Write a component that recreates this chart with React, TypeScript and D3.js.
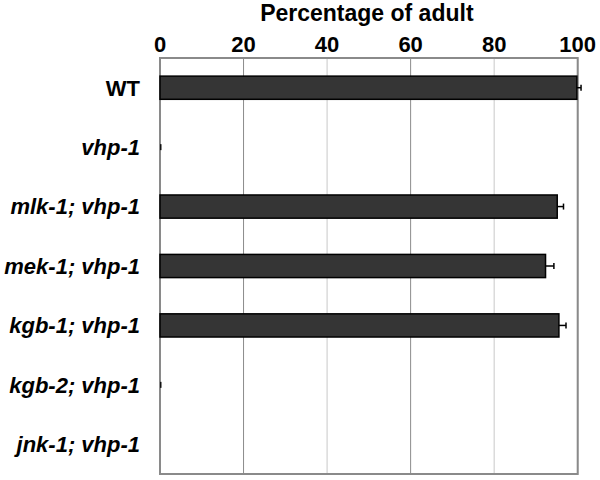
import React from "react";
import * as d3 from "d3";

const categories = ["WT", "vhp-1", "mlk-1; vhp-1", "mek-1; vhp-1", "kgb-1; vhp-1", "kgb-2; vhp-1", "jnk-1; vhp-1"];
const values = [99.8, 0.3, 95.1, 92.3, 95.5, 0.3, 0];
const errors = [1.0, 0.3, 1.5, 2.0, 1.7, 0.3, 0];
const italicFlags = [false, true, true, true, true, true, true];
const ticks = [0, 20, 40, 60, 80, 100];
const title = "Percentage of adult";

const W = 600, H = 480;
const left = 160, right = 577.7, top = 58, bottom = 474;

export default function App() {
  const x = d3.scaleLinear().domain([0, 100]).range([left, right]);
  const y = d3.scaleBand().domain(categories).range([top, bottom]).paddingInner(0.61).paddingOuter(0.305);
  const font = "'Liberation Sans', Arial, Helvetica, sans-serif";
  return (
    <svg width={W} height={H} style={{ position: "absolute", left: 0, top: 0, background: "#fff" }} fontFamily={font}>
      <rect x={0} y={0} width={W} height={H} fill="#fff" />
      {ticks.map((t, i) => (
        <line key={"g" + t} x1={x(t)} x2={x(t)} y1={top} y2={bottom}
          stroke={i % 2 === 1 ? "#8c8c8c" : "#c8c8c8"} strokeWidth={1} />
      ))}
      <rect x={left} y={top} width={right - left} height={bottom - top} fill="none" stroke="#8a8a8a" strokeWidth={2} />
      {categories.map((c, i) => {
        const by = y(c)!;
        const bh = y.bandwidth();
        const cy = by + bh / 2;
        const v = values[i];
        const e = errors[i];
        return (
          <g key={c}>
            {v > 0 && v > 1 && (
              <rect x={x(0)} y={by} width={x(v) - x(0)} height={bh} fill="#353535" stroke="#000" strokeWidth={1.5} />
            )}
            {v > 0 && v <= 1 && (
              <rect x={x(0)} y={cy - 3} width={Math.max(x(v) - x(0), 1.5)} height={6} fill="#111" />
            )}
            {e > 0 && v > 1 && (
              <g stroke="#000" strokeWidth={1.5}>
                <line x1={x(v)} x2={x(v + e)} y1={cy} y2={cy} />
                <line x1={x(v + e)} x2={x(v + e)} y1={cy - 3} y2={cy + 3} />
              </g>
            )}
            <text x={140} y={cy} dy="0.36em" textAnchor="end" fontSize={22} fontWeight="bold"
              fontStyle={italicFlags[i] ? "italic" : "normal"} fill="#000">{c}</text>
          </g>
        );
      })}
      {ticks.map((t) => (
        <text key={"t" + t} x={x(t)} y={52} textAnchor="middle" fontSize={22} fontWeight="bold" fill="#000">{t}</text>
      ))}
      <text x={(left + right) / 2 - 2} y={21} textAnchor="middle" fontSize={23} fontWeight="bold" fill="#000">{title}</text>
    </svg>
  );
}
